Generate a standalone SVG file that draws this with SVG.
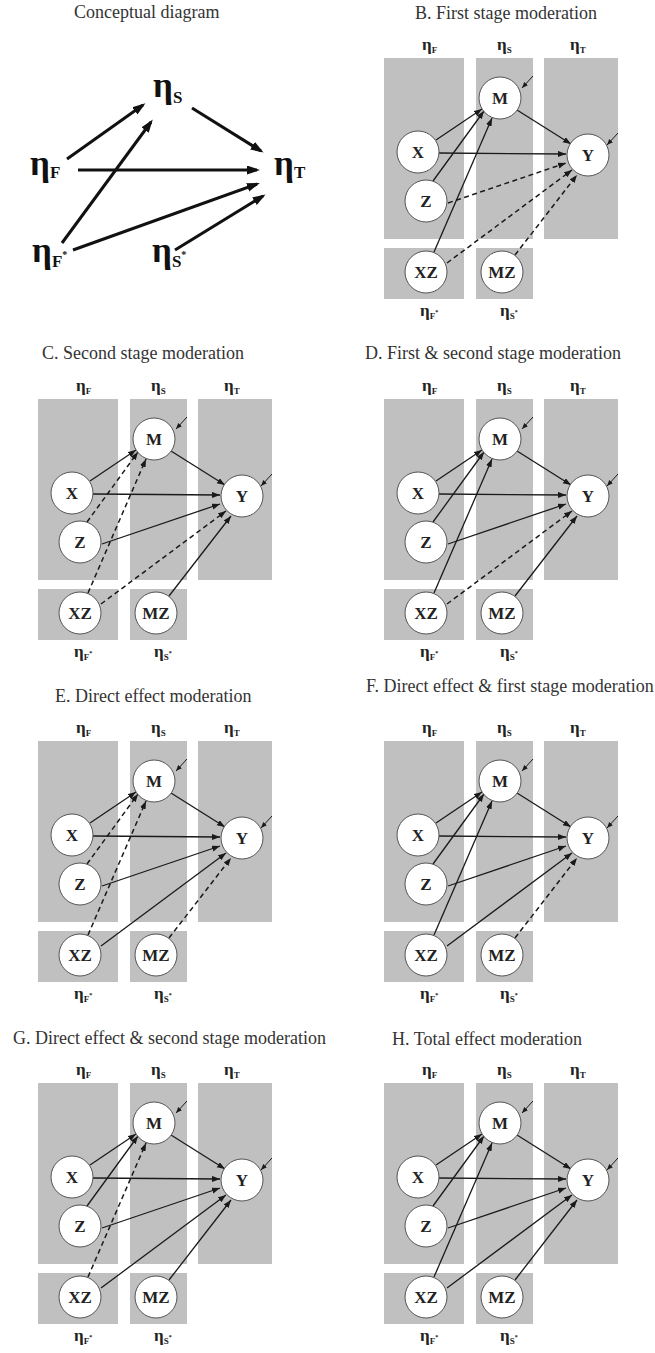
<svg xmlns="http://www.w3.org/2000/svg" width="655" height="1353" viewBox="0 0 655 1353">
<defs>
<style>
.title{font-family:"Liberation Serif","Times New Roman",serif;font-size:18px;fill:#333}
.ceta{font-family:"Liberation Serif","Times New Roman",serif;font-weight:bold;font-size:35px;fill:#111}
.csub{font-size:17px}
.csup{font-size:10px}
.eta{font-family:"Liberation Serif","Times New Roman",serif;font-weight:bold;font-size:17px;fill:#222}
.sub{font-size:9px}
.sup{font-size:6px}
.band{fill:#c0c0c0}
.node circle{fill:#fff;stroke:#555;stroke-width:1}
.node text{font-family:"Liberation Serif","Times New Roman",serif;font-weight:bold;font-size:17px;fill:#222;text-anchor:middle}
.s{stroke:#1a1a1a;stroke-width:1.3;fill:none;marker-end:url(#ah)}
.d{stroke:#1a1a1a;stroke-width:1.5;fill:none;stroke-dasharray:5 3.5;marker-end:url(#ah)}
.res{stroke:#1a1a1a;stroke-width:1;fill:none;marker-end:url(#ahs)}
.big{stroke:#111;stroke-width:3;fill:none;marker-end:url(#ahb)}
</style>
<marker id="ah" markerUnits="userSpaceOnUse" markerWidth="9" markerHeight="7" refX="8" refY="3" orient="auto"><path d="M0,0 L8,3 L0,6 z" fill="#1a1a1a"/></marker>
<marker id="ahs" markerUnits="userSpaceOnUse" markerWidth="7" markerHeight="6" refX="6" refY="2.5" orient="auto"><path d="M0,0 L6,2.5 L0,5 z" fill="#1a1a1a"/></marker>
<marker id="ahb" markerUnits="userSpaceOnUse" markerWidth="14" markerHeight="10" refX="10" refY="4.5" orient="auto"><path d="M0,0 L13,4.5 L0,9 z" fill="#111"/></marker>
</defs>
<rect width="655" height="1353" fill="#fff"/>

<!-- Conceptual diagram -->
<text class="title" x="74" y="18">Conceptual diagram</text>
<g id="concept">
<g class="connectors">
<line class="big" x1="67" y1="159" x2="143" y2="105"/>
<line class="big" x1="62" y1="243" x2="151" y2="122"/>
<line class="big" x1="192" y1="108" x2="261" y2="151"/>
<line class="big" x1="78" y1="170" x2="257" y2="170"/>
<line class="big" x1="73" y1="250" x2="257" y2="184"/>
<line class="big" x1="175" y1="250" x2="263" y2="196"/>
</g>
<g id="c-etaS"><text class="ceta" x="153" y="97">η<tspan class="csub" dy="6">S</tspan></text></g>
<g id="c-etaF"><text class="ceta" x="30" y="175">η<tspan class="csub" dy="3">F</tspan></text></g>
<g id="c-etaT"><text class="ceta" x="274" y="175">η<tspan class="csub" dy="3">T</tspan></text></g>
<g id="c-etaFs"><text class="ceta" x="32" y="262">η<tspan class="csub" dy="5">F</tspan><tspan class="csup" dy="-9">*</tspan></text></g>
<g id="c-etaSs"><text class="ceta" x="152" y="262">η<tspan class="csub" dy="5">S</tspan><tspan class="csup" dy="-9">*</tspan></text></g>
</g>

<!-- Panel B -->
<text class="title" x="415" y="19">B. First stage moderation</text>
<g id="panelB" transform="translate(384,58)">
<rect class="band" x="0" y="0" width="80" height="181"/><rect class="band" x="92" y="0" width="57" height="181"/><rect class="band" x="160" y="0" width="74" height="181"/><rect class="band" x="0" y="190" width="80" height="51"/><rect class="band" x="92" y="190" width="57" height="51"/>
<text class="eta" x="38" y="-8">η<tspan class="sub" dy="3">F</tspan></text><text class="eta" x="113" y="-8">η<tspan class="sub" dy="3">S</tspan></text><text class="eta" x="186" y="-8">η<tspan class="sub" dy="3">T</tspan></text>
<text class="eta" x="36" y="258">η<tspan class="sub" dy="3">F</tspan><tspan class="sup" dy="-5">*</tspan></text><text class="eta" x="116" y="258">η<tspan class="sub" dy="3">S</tspan><tspan class="sup" dy="-5">*</tspan></text>
<g class="connectors">
<line class="s" x1="52" y1="82" x2="98" y2="51"/><line class="s" x1="49" y1="123" x2="100" y2="53"/><line class="s" x1="50" y1="194" x2="108" y2="60"/><line class="s" x1="133" y1="52" x2="187" y2="86"/><line class="s" x1="55" y1="95" x2="182" y2="96"/><line class="d" x1="64" y1="145" x2="182" y2="105"/><line class="d" x1="63" y1="205" x2="188" y2="112"/><line class="d" x1="131" y1="197" x2="193" y2="117"/>
<line class="res" x1="149" y1="18" x2="138" y2="30"/><line class="res" x1="234" y1="75" x2="223" y2="87"/>
</g>
<g id="B-M" class="node"><circle cx="116" cy="40" r="21"/><text x="116" y="46">M</text></g>
<g id="B-X" class="node"><circle cx="34" cy="94" r="21"/><text x="34" y="100">X</text></g>
<g id="B-Z" class="node"><circle cx="42" cy="143" r="21"/><text x="42" y="149">Z</text></g>
<g id="B-XZ" class="node"><circle cx="42" cy="214" r="21"/><text x="42" y="220">XZ</text></g>
<g id="B-MZ" class="node"><circle cx="118" cy="214" r="21"/><text x="118" y="220">MZ</text></g>
<g id="B-Y" class="node"><circle cx="204" cy="97" r="21"/><text x="204" y="103">Y</text></g>
</g>

<!-- Panel C -->
<text class="title" x="42" y="359">C. Second stage moderation</text>
<g id="panelC" transform="translate(38,399)">
<rect class="band" x="0" y="0" width="80" height="181"/><rect class="band" x="92" y="0" width="57" height="181"/><rect class="band" x="160" y="0" width="74" height="181"/><rect class="band" x="0" y="190" width="80" height="51"/><rect class="band" x="92" y="190" width="57" height="51"/>
<text class="eta" x="38" y="-8">η<tspan class="sub" dy="3">F</tspan></text><text class="eta" x="113" y="-8">η<tspan class="sub" dy="3">S</tspan></text><text class="eta" x="186" y="-8">η<tspan class="sub" dy="3">T</tspan></text>
<text class="eta" x="36" y="258">η<tspan class="sub" dy="3">F</tspan><tspan class="sup" dy="-5">*</tspan></text><text class="eta" x="116" y="258">η<tspan class="sub" dy="3">S</tspan><tspan class="sup" dy="-5">*</tspan></text>
<g class="connectors">
<line class="s" x1="52" y1="82" x2="98" y2="51"/><line class="d" x1="49" y1="123" x2="100" y2="53"/><line class="d" x1="50" y1="194" x2="108" y2="60"/><line class="s" x1="133" y1="52" x2="187" y2="86"/><line class="s" x1="55" y1="95" x2="182" y2="96"/><line class="s" x1="64" y1="145" x2="182" y2="105"/><line class="d" x1="63" y1="205" x2="188" y2="112"/><line class="s" x1="131" y1="197" x2="193" y2="117"/>
<line class="res" x1="149" y1="18" x2="138" y2="30"/><line class="res" x1="234" y1="75" x2="223" y2="87"/>
</g>
<g id="C-M" class="node"><circle cx="116" cy="40" r="21"/><text x="116" y="46">M</text></g>
<g id="C-X" class="node"><circle cx="34" cy="94" r="21"/><text x="34" y="100">X</text></g>
<g id="C-Z" class="node"><circle cx="42" cy="143" r="21"/><text x="42" y="149">Z</text></g>
<g id="C-XZ" class="node"><circle cx="42" cy="214" r="21"/><text x="42" y="220">XZ</text></g>
<g id="C-MZ" class="node"><circle cx="118" cy="214" r="21"/><text x="118" y="220">MZ</text></g>
<g id="C-Y" class="node"><circle cx="204" cy="97" r="21"/><text x="204" y="103">Y</text></g>
</g>

<!-- Panel D -->
<text class="title" x="365" y="359">D. First &amp; second stage moderation</text>
<g id="panelD" transform="translate(384,399)">
<rect class="band" x="0" y="0" width="80" height="181"/><rect class="band" x="92" y="0" width="57" height="181"/><rect class="band" x="160" y="0" width="74" height="181"/><rect class="band" x="0" y="190" width="80" height="51"/><rect class="band" x="92" y="190" width="57" height="51"/>
<text class="eta" x="38" y="-8">η<tspan class="sub" dy="3">F</tspan></text><text class="eta" x="113" y="-8">η<tspan class="sub" dy="3">S</tspan></text><text class="eta" x="186" y="-8">η<tspan class="sub" dy="3">T</tspan></text>
<text class="eta" x="36" y="258">η<tspan class="sub" dy="3">F</tspan><tspan class="sup" dy="-5">*</tspan></text><text class="eta" x="116" y="258">η<tspan class="sub" dy="3">S</tspan><tspan class="sup" dy="-5">*</tspan></text>
<g class="connectors">
<line class="s" x1="52" y1="82" x2="98" y2="51"/><line class="s" x1="49" y1="123" x2="100" y2="53"/><line class="s" x1="50" y1="194" x2="108" y2="60"/><line class="s" x1="133" y1="52" x2="187" y2="86"/><line class="s" x1="55" y1="95" x2="182" y2="96"/><line class="s" x1="64" y1="145" x2="182" y2="105"/><line class="d" x1="63" y1="205" x2="188" y2="112"/><line class="s" x1="131" y1="197" x2="193" y2="117"/>
<line class="res" x1="149" y1="18" x2="138" y2="30"/><line class="res" x1="234" y1="75" x2="223" y2="87"/>
</g>
<g id="D-M" class="node"><circle cx="116" cy="40" r="21"/><text x="116" y="46">M</text></g>
<g id="D-X" class="node"><circle cx="34" cy="94" r="21"/><text x="34" y="100">X</text></g>
<g id="D-Z" class="node"><circle cx="42" cy="143" r="21"/><text x="42" y="149">Z</text></g>
<g id="D-XZ" class="node"><circle cx="42" cy="214" r="21"/><text x="42" y="220">XZ</text></g>
<g id="D-MZ" class="node"><circle cx="118" cy="214" r="21"/><text x="118" y="220">MZ</text></g>
<g id="D-Y" class="node"><circle cx="204" cy="97" r="21"/><text x="204" y="103">Y</text></g>
</g>

<!-- Panel E -->
<text class="title" x="55" y="702">E. Direct effect moderation</text>
<g id="panelE" transform="translate(38,741)">
<rect class="band" x="0" y="0" width="80" height="181"/><rect class="band" x="92" y="0" width="57" height="181"/><rect class="band" x="160" y="0" width="74" height="181"/><rect class="band" x="0" y="190" width="80" height="51"/><rect class="band" x="92" y="190" width="57" height="51"/>
<text class="eta" x="38" y="-8">η<tspan class="sub" dy="3">F</tspan></text><text class="eta" x="113" y="-8">η<tspan class="sub" dy="3">S</tspan></text><text class="eta" x="186" y="-8">η<tspan class="sub" dy="3">T</tspan></text>
<text class="eta" x="36" y="258">η<tspan class="sub" dy="3">F</tspan><tspan class="sup" dy="-5">*</tspan></text><text class="eta" x="116" y="258">η<tspan class="sub" dy="3">S</tspan><tspan class="sup" dy="-5">*</tspan></text>
<g class="connectors">
<line class="s" x1="52" y1="82" x2="98" y2="51"/><line class="d" x1="49" y1="123" x2="100" y2="53"/><line class="d" x1="50" y1="194" x2="108" y2="60"/><line class="s" x1="133" y1="52" x2="187" y2="86"/><line class="s" x1="55" y1="95" x2="182" y2="96"/><line class="s" x1="64" y1="145" x2="182" y2="105"/><line class="s" x1="63" y1="205" x2="188" y2="112"/><line class="d" x1="131" y1="197" x2="193" y2="117"/>
<line class="res" x1="149" y1="18" x2="138" y2="30"/><line class="res" x1="234" y1="75" x2="223" y2="87"/>
</g>
<g id="E-M" class="node"><circle cx="116" cy="40" r="21"/><text x="116" y="46">M</text></g>
<g id="E-X" class="node"><circle cx="34" cy="94" r="21"/><text x="34" y="100">X</text></g>
<g id="E-Z" class="node"><circle cx="42" cy="143" r="21"/><text x="42" y="149">Z</text></g>
<g id="E-XZ" class="node"><circle cx="42" cy="214" r="21"/><text x="42" y="220">XZ</text></g>
<g id="E-MZ" class="node"><circle cx="118" cy="214" r="21"/><text x="118" y="220">MZ</text></g>
<g id="E-Y" class="node"><circle cx="204" cy="97" r="21"/><text x="204" y="103">Y</text></g>
</g>

<!-- Panel F -->
<text class="title" x="366" y="692">F. Direct effect &amp; first stage moderation</text>
<g id="panelF" transform="translate(384,741)">
<rect class="band" x="0" y="0" width="80" height="181"/><rect class="band" x="92" y="0" width="57" height="181"/><rect class="band" x="160" y="0" width="74" height="181"/><rect class="band" x="0" y="190" width="80" height="51"/><rect class="band" x="92" y="190" width="57" height="51"/>
<text class="eta" x="38" y="-8">η<tspan class="sub" dy="3">F</tspan></text><text class="eta" x="113" y="-8">η<tspan class="sub" dy="3">S</tspan></text><text class="eta" x="186" y="-8">η<tspan class="sub" dy="3">T</tspan></text>
<text class="eta" x="36" y="258">η<tspan class="sub" dy="3">F</tspan><tspan class="sup" dy="-5">*</tspan></text><text class="eta" x="116" y="258">η<tspan class="sub" dy="3">S</tspan><tspan class="sup" dy="-5">*</tspan></text>
<g class="connectors">
<line class="s" x1="52" y1="82" x2="98" y2="51"/><line class="s" x1="49" y1="123" x2="100" y2="53"/><line class="s" x1="50" y1="194" x2="108" y2="60"/><line class="s" x1="133" y1="52" x2="187" y2="86"/><line class="s" x1="55" y1="95" x2="182" y2="96"/><line class="s" x1="64" y1="145" x2="182" y2="105"/><line class="s" x1="63" y1="205" x2="188" y2="112"/><line class="d" x1="131" y1="197" x2="193" y2="117"/>
<line class="res" x1="149" y1="18" x2="138" y2="30"/><line class="res" x1="234" y1="75" x2="223" y2="87"/>
</g>
<g id="F-M" class="node"><circle cx="116" cy="40" r="21"/><text x="116" y="46">M</text></g>
<g id="F-X" class="node"><circle cx="34" cy="94" r="21"/><text x="34" y="100">X</text></g>
<g id="F-Z" class="node"><circle cx="42" cy="143" r="21"/><text x="42" y="149">Z</text></g>
<g id="F-XZ" class="node"><circle cx="42" cy="214" r="21"/><text x="42" y="220">XZ</text></g>
<g id="F-MZ" class="node"><circle cx="118" cy="214" r="21"/><text x="118" y="220">MZ</text></g>
<g id="F-Y" class="node"><circle cx="204" cy="97" r="21"/><text x="204" y="103">Y</text></g>
</g>

<!-- Panel G -->
<text class="title" x="13" y="1044">G. Direct effect &amp; second stage moderation</text>
<g id="panelG" transform="translate(38,1083)">
<rect class="band" x="0" y="0" width="80" height="181"/><rect class="band" x="92" y="0" width="57" height="181"/><rect class="band" x="160" y="0" width="74" height="181"/><rect class="band" x="0" y="190" width="80" height="51"/><rect class="band" x="92" y="190" width="57" height="51"/>
<text class="eta" x="38" y="-8">η<tspan class="sub" dy="3">F</tspan></text><text class="eta" x="113" y="-8">η<tspan class="sub" dy="3">S</tspan></text><text class="eta" x="186" y="-8">η<tspan class="sub" dy="3">T</tspan></text>
<text class="eta" x="36" y="258">η<tspan class="sub" dy="3">F</tspan><tspan class="sup" dy="-5">*</tspan></text><text class="eta" x="116" y="258">η<tspan class="sub" dy="3">S</tspan><tspan class="sup" dy="-5">*</tspan></text>
<g class="connectors">
<line class="s" x1="52" y1="82" x2="98" y2="51"/><line class="s" x1="49" y1="123" x2="100" y2="53"/><line class="d" x1="50" y1="194" x2="108" y2="60"/><line class="s" x1="133" y1="52" x2="187" y2="86"/><line class="s" x1="55" y1="95" x2="182" y2="96"/><line class="s" x1="64" y1="145" x2="182" y2="105"/><line class="s" x1="63" y1="205" x2="188" y2="112"/><line class="s" x1="131" y1="197" x2="193" y2="117"/>
<line class="res" x1="149" y1="18" x2="138" y2="30"/><line class="res" x1="234" y1="75" x2="223" y2="87"/>
</g>
<g id="G-M" class="node"><circle cx="116" cy="40" r="21"/><text x="116" y="46">M</text></g>
<g id="G-X" class="node"><circle cx="34" cy="94" r="21"/><text x="34" y="100">X</text></g>
<g id="G-Z" class="node"><circle cx="42" cy="143" r="21"/><text x="42" y="149">Z</text></g>
<g id="G-XZ" class="node"><circle cx="42" cy="214" r="21"/><text x="42" y="220">XZ</text></g>
<g id="G-MZ" class="node"><circle cx="118" cy="214" r="21"/><text x="118" y="220">MZ</text></g>
<g id="G-Y" class="node"><circle cx="204" cy="97" r="21"/><text x="204" y="103">Y</text></g>
</g>

<!-- Panel H -->
<text class="title" x="392" y="1045">H. Total effect moderation</text>
<g id="panelH" transform="translate(384,1083)">
<rect class="band" x="0" y="0" width="80" height="181"/><rect class="band" x="92" y="0" width="57" height="181"/><rect class="band" x="160" y="0" width="74" height="181"/><rect class="band" x="0" y="190" width="80" height="51"/><rect class="band" x="92" y="190" width="57" height="51"/>
<text class="eta" x="38" y="-8">η<tspan class="sub" dy="3">F</tspan></text><text class="eta" x="113" y="-8">η<tspan class="sub" dy="3">S</tspan></text><text class="eta" x="186" y="-8">η<tspan class="sub" dy="3">T</tspan></text>
<text class="eta" x="36" y="258">η<tspan class="sub" dy="3">F</tspan><tspan class="sup" dy="-5">*</tspan></text><text class="eta" x="116" y="258">η<tspan class="sub" dy="3">S</tspan><tspan class="sup" dy="-5">*</tspan></text>
<g class="connectors">
<line class="s" x1="52" y1="82" x2="98" y2="51"/><line class="s" x1="49" y1="123" x2="100" y2="53"/><line class="s" x1="50" y1="194" x2="108" y2="60"/><line class="s" x1="133" y1="52" x2="187" y2="86"/><line class="s" x1="55" y1="95" x2="182" y2="96"/><line class="s" x1="64" y1="145" x2="182" y2="105"/><line class="s" x1="63" y1="205" x2="188" y2="112"/><line class="s" x1="131" y1="197" x2="193" y2="117"/>
<line class="res" x1="149" y1="18" x2="138" y2="30"/><line class="res" x1="234" y1="75" x2="223" y2="87"/>
</g>
<g id="H-M" class="node"><circle cx="116" cy="40" r="21"/><text x="116" y="46">M</text></g>
<g id="H-X" class="node"><circle cx="34" cy="94" r="21"/><text x="34" y="100">X</text></g>
<g id="H-Z" class="node"><circle cx="42" cy="143" r="21"/><text x="42" y="149">Z</text></g>
<g id="H-XZ" class="node"><circle cx="42" cy="214" r="21"/><text x="42" y="220">XZ</text></g>
<g id="H-MZ" class="node"><circle cx="118" cy="214" r="21"/><text x="118" y="220">MZ</text></g>
<g id="H-Y" class="node"><circle cx="204" cy="97" r="21"/><text x="204" y="103">Y</text></g>
</g>
</svg>
